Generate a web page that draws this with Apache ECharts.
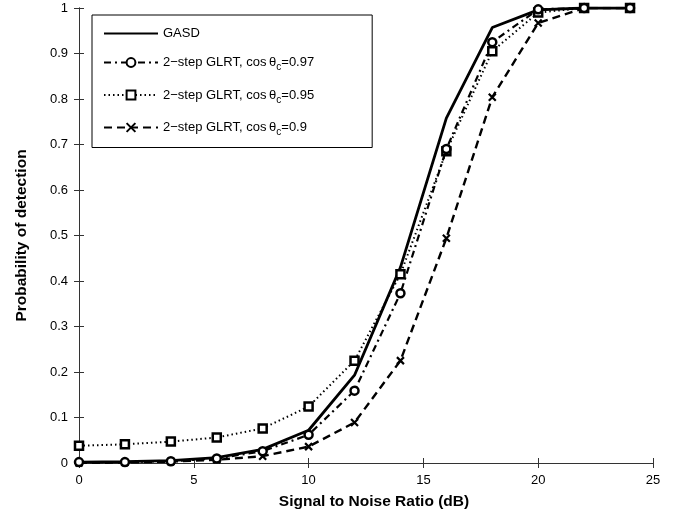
<!DOCTYPE html>
<html>
<head>
<meta charset="utf-8">
<script src="https://cdn.jsdelivr.net/npm/echarts@6/dist/echarts.min.js"></script>
<style>
  html, body { margin: 0; padding: 0; background: #fff; }
  #container { width: 678px; height: 517px; }
</style>
</head>
<body>
<div id="container"></div>
<script>
// 数据
var snr = [0, 2, 4, 6, 8, 10, 12, 14, 16, 18, 20, 22, 24];
var gasd = [0.002, 0.003, 0.005, 0.012, 0.03, 0.072, 0.193, 0.43, 0.758, 0.957, 0.996, 1, 1];
var glrt097 = [0.002, 0.002, 0.004, 0.01, 0.026, 0.062, 0.159, 0.373, 0.69, 0.925, 0.997, 1, 1];
var glrt095 = [0.038, 0.041, 0.047, 0.056, 0.076, 0.124, 0.225, 0.415, 0.685, 0.905, 0.99, 1, 1];
var glrt090 = [0.0, 0.001, 0.003, 0.007, 0.015, 0.036, 0.089, 0.225, 0.494, 0.804, 0.967, 1, 1];

var legendNames = ['GASD', 'g097', 'g095', 'g090'];
var legendLabels = {
	GASD: 'GASD',
	g097: '2\u2212step GLRT, cos\u2009\u03b8{sub|c}=0.97',
	g095: '2\u2212step GLRT, cos\u2009\u03b8{sub|c}=0.95',
	g090: '2\u2212step GLRT, cos\u2009\u03b8{sub|c}=0.9'
};

function pairs(ys) {
	var out = [];
	for (var i = 0; i < snr.length; i++) {
		out.push([snr[i], ys[i]]);
	}
	return out;
}

var legendData = legendNames.map(function(n) {
	// GASD 图例只画线，不画标记
	if (n === 'GASD') {
		return { name: n, itemStyle: { color: 'rgba(0,0,0,0)', borderWidth: 0 } };
	}
	return { name: n };
});

var myChart = echarts.init(document.getElementById('container'));
var font = 'Liberation Sans, Arial, Helvetica, sans-serif';

var option = {
	animation: false,
	backgroundColor: '#fff',
	textStyle: { fontFamily: font },
	grid: { left: 79, right: 25, top: 8, bottom: 54 },
	legend: {
		data: legendData,
		orient: 'vertical',
		left: 92,
		top: 15,
		padding: [12, 58, 10, 11],
		itemGap: 16,
		itemWidth: 54,
		itemHeight: 11,
		backgroundColor: '#fff',
		borderColor: '#000',
		borderWidth: 1,
		borderRadius: 0,
		formatter: function(name) { return legendLabels[name]; },
		textStyle: {
			color: '#000',
			fontSize: 13,
			fontFamily: font,
			rich: {
				sub: { fontSize: 10, padding: [10, 0, 0, 0], color: '#000' }
			}
		}
	},
	xAxis: [{
		type: 'value',
		min: 0, max: 25, interval: 5,
		name: 'Signal to Noise Ratio (dB)',
		nameLocation: 'middle',
		nameGap: 31,
		nameTextStyle: { fontSize: 15.5, fontWeight: 'bold', color: '#000', padding: [0, 0, 0, 16] },
		axisLine: { lineStyle: { color: '#333' } },
		axisTick: { inside: true, length: 5, lineStyle: { color: '#333' } },
		axisLabel: { color: '#000', fontSize: 13, margin: 11 },
		splitLine: { show: false }
	}, {
		type: 'value',
		position: 'top',
		min: 0, max: 25, interval: 5,
		axisLine: { show: true, lineStyle: { color: '#333' } },
		axisTick: { inside: true, length: 5, lineStyle: { color: '#333' } },
		axisLabel: { show: false },
		splitLine: { show: false }
	}],
	yAxis: [{
		type: 'value',
		min: 0, max: 1, interval: 0.1,
		name: 'Probability of detection',
		nameLocation: 'middle',
		nameGap: 49,
		nameTextStyle: { fontSize: 15.5, fontWeight: 'bold', color: '#000' },
		axisLine: { show: true, lineStyle: { color: '#333' } },
		axisTick: { show: true, inside: true, length: 5, lineStyle: { color: '#333' } },
		axisLabel: { color: '#000', fontSize: 13, margin: 11 },
		splitLine: { show: false }
	}, {
		type: 'value',
		position: 'right',
		min: 0, max: 1, interval: 0.1,
		axisLine: { show: true, lineStyle: { color: '#333' } },
		axisTick: { show: true, inside: true, length: 5, lineStyle: { color: '#333' } },
		axisLabel: { show: false },
		splitLine: { show: false }
	}],
	series: [{
		name: 'g090',
		type: 'line',
		data: pairs(glrt090),
		symbol: 'path://M0,0L10,10M10,0L0,10',
		symbolSize: 7,
		itemStyle: { color: '#000', borderColor: '#000', borderWidth: 2.2 },
		lineStyle: { color: '#000', width: 2.4, type: [8, 5] }
	}, {
		name: 'g095',
		type: 'line',
		data: pairs(glrt095),
		symbol: 'rect',
		symbolSize: 8,
		itemStyle: { color: '#fff', borderColor: '#000', borderWidth: 2.5 },
		lineStyle: { color: '#000', width: 2, type: [1.5, 3] }
	}, {
		name: 'g097',
		type: 'line',
		data: pairs(glrt097),
		symbol: 'circle',
		symbolSize: 8,
		itemStyle: { color: '#fff', borderColor: '#000', borderWidth: 2.5 },
		lineStyle: { color: '#000', width: 2.2, type: [7, 4, 2, 4] }
	}, {
		name: 'GASD',
		type: 'line',
		data: pairs(gasd),
		symbol: 'circle',
		showSymbol: false,
		itemStyle: { color: '#000' },
		lineStyle: { color: '#000', width: 2.8, type: 'solid' }
	}]
};
myChart.setOption(option);
</script>
</body>
</html>
